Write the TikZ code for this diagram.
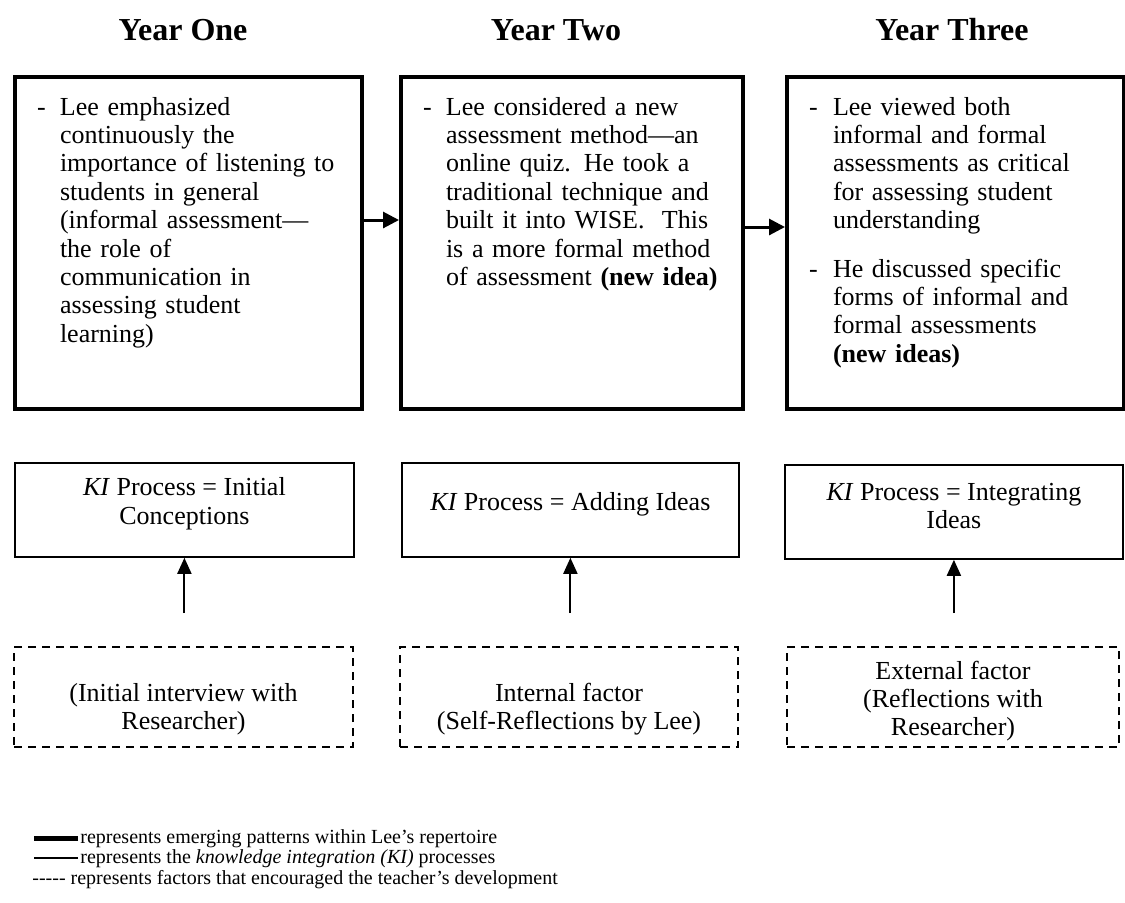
\documentclass[tikz,border=0pt]{standalone}
\usepackage{fontspec}
\setmainfont{Liberation Serif}
\usetikzlibrary{arrows.meta, positioning}

% centred text block, moved down by half of #1
\newcommand{\shifttext}[2]{\parbox[c][40pt][c]{160pt}{\centering\vspace*{#1}#2}}

\tikzset{
  yeartitle/.style={font=\fontsize{16pt}{18pt}\selectfont\bfseries},
  yearbox/.style={draw, line width=2pt, anchor=north west, align=left,
                  inner xsep=11pt, inner ysep=9pt, text height=10pt, text depth=138pt},
  kibox/.style={draw, line width=0.9pt, anchor=north west, align=center,
                minimum height=47pt, inner sep=2pt},
  factorbox/.style={draw, line width=1pt, dash pattern=on 4pt off 3pt,
                    anchor=north west, align=center, minimum height=50pt, inner sep=2pt},
  flow/.style={-{Triangle[length=8pt,width=8pt]}, line width=1.5pt},
  lift/.style={-{Triangle[length=8pt,width=7pt]}, line width=1pt},
  legendtext/.style={anchor=base west, inner sep=0pt, font=\fontsize{10pt}{10.5pt}\selectfont},
}

\begin{document}
\begin{tikzpicture}[x=0.5pt, y=-0.5pt, font=\fontsize{13pt}{14.2pt}\selectfont]
\useasboundingbox (0,0) rectangle (1125,902);

% year headings
\node[yeartitle] (year1) at (183,30) {Year One};
\node[yeartitle] (year2) at (556,30) {Year Two};
\node[yeartitle] (year3) at (952,30) {Year Three};

% emerging patterns
\node[yearbox, text width=151.5pt] (pattern1) at (13,75) {%
  \begin{tabular}[t]{@{}p{11.5pt}@{}l@{}}
  - & Lee emphasized\\
    & continuously the\\
    & importance of listening to\\
    & students in general\\
    & (informal assessment---\\
    & the role of\\
    & communication in\\
    & assessing student\\
    & learning)
  \end{tabular}};
\node[yearbox, text width=149pt] (pattern2) at (399,75) {%
  \begin{tabular}[t]{@{}p{11.5pt}@{}l@{}}
  - & Lee considered a new\\
    & assessment method---an\\
    & online quiz. He took a\\
    & traditional technique and\\
    & built it into WISE.\ \ This\\
    & is a more formal method\\
    & of assessment \textbf{(new idea)}
  \end{tabular}};
\node[yearbox, text width=146.5pt] (pattern3) at (785,75) {%
  \begin{tabular}[t]{@{}p{12pt}@{}l@{}}
  - & Lee viewed both\\
    & informal and formal\\
    & assessments as critical\\
    & for assessing student\\
    & understanding\\[10pt]
  - & He discussed specific\\
    & forms of informal and\\
    & formal assessments\\
    & \textbf{(new ideas)}
  \end{tabular}};

\draw[flow] ([yshift=-72.5pt]pattern1.north east) -- ([yshift=-72.5pt]pattern2.north west);
\draw[flow] ([yshift=-76pt]pattern2.north east) -- ([yshift=-76pt]pattern3.north west);

% KI processes
\node[kibox, minimum width=169.5pt] (ki1) at (14,462) {\shifttext{-6pt}{\textit{KI} Process = Initial\\Conceptions}};
\node[kibox, minimum width=168.5pt] (ki2) at (401,462) {\shifttext{-6pt}{\textit{KI} Process = Adding Ideas}};
\node[kibox, minimum width=169pt] (ki3) at (784,464) {\shifttext{-6pt}{\textit{KI} Process = Integrating\\Ideas}};

% factors
\node[factorbox, minimum width=169.5pt] (factor1) at (13,646) {\shifttext{12pt}{(Initial interview with\\Researcher)}};
\node[factorbox, minimum width=169pt] (factor2) at (399,646) {\shifttext{12pt}{Internal factor\\(Self-Reflections by Lee)}};
\node[factorbox, minimum width=166pt] (factor3) at (786,646) {\shifttext{4pt}{External factor\\(Reflections with\\Researcher)}};

\draw[lift] ([yshift=16.5pt]factor1.north -| ki1.south) -- (ki1.south);
\draw[lift] ([yshift=16.5pt]factor2.north -| ki2.south) -- (ki2.south);
\draw[lift] ([yshift=16.5pt]factor3.north -| ki3.south) -- (ki3.south);

% legend
\node[legendtext] (legend1) at (80,843) {represents emerging patterns within Lee's repertoire};
\node[legendtext] (legend2) at (80,863) {represents the \textit{knowledge integration (KI)} processes};
\node[legendtext] (legend3) at (32,884) {-{}-{}-{}-{}- represents factors that encouraged the teacher's development};
\draw[line width=2.5pt] ([xshift=-1pt]legend1.west) -- ++(-22pt,0);
\draw[line width=1pt] ([xshift=-1pt]legend2.west) -- ++(-22pt,0);
\end{tikzpicture}
\end{document}
